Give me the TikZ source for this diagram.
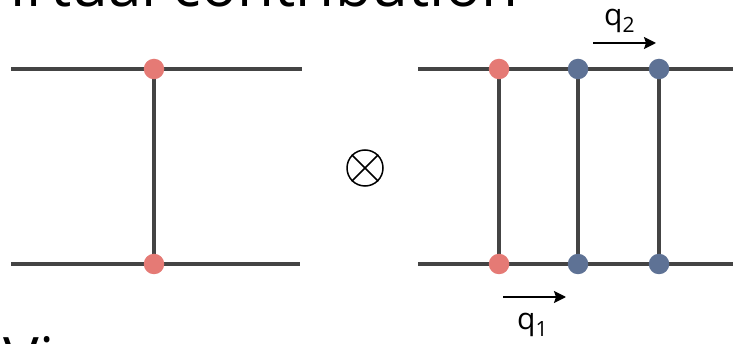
\documentclass[tikz,border=0pt]{standalone}
\usepackage{fontspec}
\setmainfont{Open Sans}
\usetikzlibrary{arrows.meta}
\definecolor{linegray}{HTML}{444444}
\definecolor{dotred}{HTML}{E57A75}
\definecolor{dotblue}{HTML}{5E7295}
\tikzset{
  prop/.style={draw=linegray, line width=4.8pt},
  reddot/.style={circle, fill=dotred, inner sep=0pt, minimum size=20.5pt},
  bluedot/.style={circle, fill=dotblue, inner sep=0pt, minimum size=20.5pt},
  momarrow/.style={draw=black, line width=2pt, -{Stealth[length=12pt,width=12pt,inset=2pt]}},
  qlabel/.style={inner sep=0pt, anchor=base west, font=\fontsize{30}{34}\selectfont},
  bigtext/.style={inner sep=0pt, anchor=base west, font=\fontsize{60}{70}\selectfont}
}
\begin{document}
\begin{tikzpicture}[x=1pt, y=-1pt]
\useasboundingbox (0,0) rectangle (733,344);
% texts cut by the page edge, as in the reference
\node[bigtext] (title) at (-25,7) {Virtual contribution};
\node[bigtext] (bottomtext) at (-51,380) {MVi};
% left diagram
\coordinate (LTa) at (11,69);
\coordinate (LTb) at (302,69);
\coordinate (LBa) at (11,264);
\coordinate (LBb) at (300,264);
\coordinate (l1) at (154,69);
\coordinate (l2) at (154,264);
\draw[prop] (LTa) -- (LTb);
\draw[prop] (LBa) -- (LBb);
\draw[prop] (l1) -- (l2);
\node[reddot] (lt) at (l1) {};
\node[reddot] (lb) at (l2) {};
% otimes
\node[circle, draw=black, line width=1.5pt, minimum size=36pt, inner sep=0pt] (ot) at (365,168) {};
\draw[black, line width=1.5pt] (ot.45) -- (ot.225);
\draw[black, line width=1.5pt] (ot.135) -- (ot.315);
% right diagram
\coordinate (RTa) at (418,69);
\coordinate (RTb) at (740,69);
\coordinate (RBa) at (418,264);
\coordinate (RBb) at (740,264);
\draw[prop] (RTa) -- (RTb);
\draw[prop] (RBa) -- (RBb);
\coordinate (r1) at (499,69);
\coordinate (r2) at (499,264);
\coordinate (b1) at (578,69);
\coordinate (b2) at (578,264);
\coordinate (c1) at (659,69);
\coordinate (c2) at (659,264);
\draw[prop] (r1) -- (r2);
\draw[prop] (b1) -- (b2);
\draw[prop] (c1) -- (c2);
\node[reddot] (rt) at (r1) {};
\node[reddot] (rb) at (r2) {};
\node[bluedot] (bt) at (b1) {};
\node[bluedot] (bb) at (b2) {};
\node[bluedot] (ct) at (c1) {};
\node[bluedot] (cb) at (c2) {};
% momentum arrows
\coordinate (q2s) at (593,43);
\coordinate (q2e) at (656,43);
\draw[momarrow] (q2s) -- (q2e);
\node[qlabel] (q2) at (604,26) {q\textsubscript{2}};
\coordinate (q1s) at (503,297);
\coordinate (q1e) at (566,297);
\draw[momarrow] (q1s) -- (q1e);
\node[qlabel] (q1) at (517,330) {q\textsubscript{1}};
\end{tikzpicture}
\end{document}
